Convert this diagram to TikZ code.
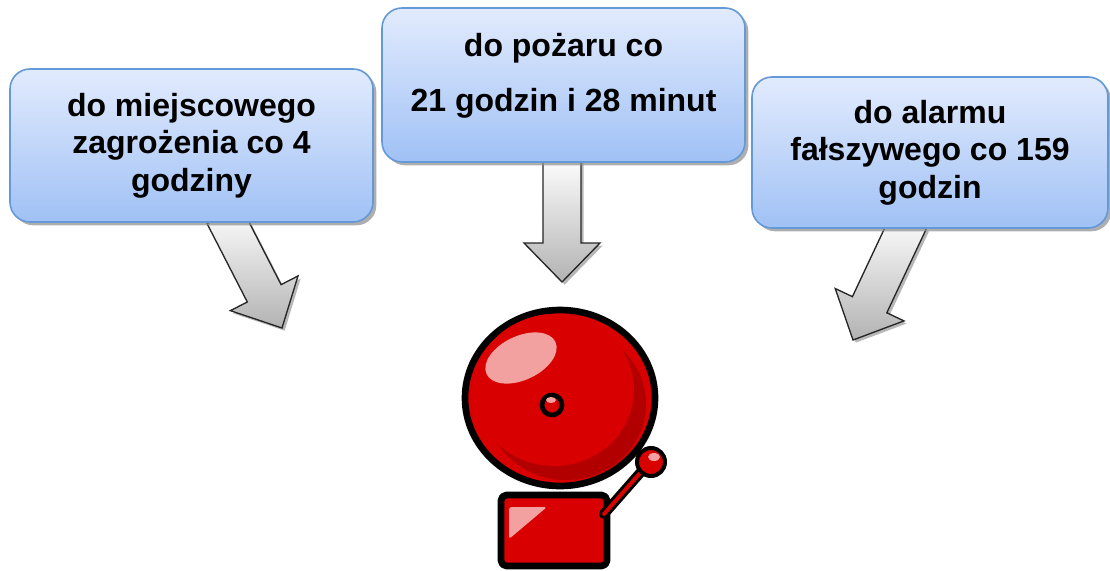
\documentclass[tikz,border=0pt]{standalone}
\usepackage{fontspec}
\setmainfont{Liberation Sans}
\usetikzlibrary{calc,shadows}
\definecolor{boxtop}{RGB}{226,235,253}
\definecolor{boxbot}{RGB}{160,193,245}
\definecolor{boxline}{RGB}{98,153,214}
\definecolor{bellred}{RGB}{216,0,0}
\definecolor{belldark}{RGB}{178,0,0}
\definecolor{bellpink}{RGB}{242,160,160}
\tikzset{
  infobox/.style={draw=boxline, line width=1.2pt, rounded corners=15pt,
    top color=boxtop, bottom color=boxbot,
    drop shadow={shadow xshift=2.5pt, shadow yshift=-2.5pt, fill=black!45, opacity=.7}},
  boxtext/.style={align=center, font=\bfseries\fontsize{24pt}{28pt}\selectfont},
  fatarrow/.style={draw=black!85, line width=1pt, line join=miter,
    top color=white, bottom color=black!30,
    drop shadow={shadow xshift=2pt, shadow yshift=-2pt, fill=black!40, opacity=.7}},
  bellline/.style={draw=black, line width=5pt, line join=round}
}
% fat arrow from #1 to the tip #2
\newcommand{\fatarrow}[2]{
  \coordinate (#1neck) at ($(#2)!29.25pt!(#1)$);
  \path[fatarrow] ($(#1)!14.25pt!90:(#2)$) -- ($(#1neck)!14.25pt!90:(#2)$)
    -- ($(#1neck)!28.5pt!90:(#2)$) -- (#2) -- ($(#1neck)!28.5pt!-90:(#2)$)
    -- ($(#1neck)!14.25pt!-90:(#2)$) -- ($(#1)!14.25pt!-90:(#2)$) -- cycle;
}
\begin{document}
\begin{tikzpicture}[x=0.75pt, y=-0.75pt]
  \useasboundingbox (0,0) rectangle (1110,571);

  % arrows, under the boxes
  \coordinate (zagrstart) at (224,215);
  \coordinate (zagrtip) at (282,328);
  \coordinate (firestart) at (562,155);
  \coordinate (firetip) at (562,282);
  \coordinate (falsestart) at (909,221);
  \coordinate (falsetip) at (853,340);
  \fatarrow{zagrstart}{zagrtip}
  \fatarrow{firestart}{firetip}
  \fatarrow{falsestart}{falsetip}

  % boxes
  \node[infobox, minimum width=272.25pt, minimum height=114.75pt] (zagr) at (191.5,145.5) {};
  \node[boxtext] (zagrtxt) at (zagr.center) {do miejscowego\\zagrożenia co 4\\godziny};
  \node[infobox, minimum width=272.25pt, minimum height=115.5pt] (fire) at (563.5,85) {};
  \node[boxtext] (firetxt) at ([yshift=7pt]fire.center) {do pożaru co\\[13pt]21 godzin i 28 minut};
  \node[infobox, minimum width=267pt, minimum height=113.25pt] (false) at (930,152.5) {};
  \node[boxtext] (falsetxt) at (false.center) {do alarmu\\fałszywego co 159\\godzin};

  % bell: base and hammer
  \draw[bellline, fill=bellred, rounded corners=4pt] (501,495) rectangle (607,566);
  \fill[bellpink, rounded corners=2pt] (509,507) -- (547,507) -- (509,539) -- cycle;
  \draw[black, line width=7.5pt, line cap=round] (604,514) -- (648,464);
  \draw[bellred, line width=3pt, line cap=round] (604,514) -- (648,464);
  \draw[black, line width=3pt, fill=bellred] (651,462) circle [radius=14];
  \fill[bellpink] (654,457) ellipse [x radius=6, y radius=4];

  % bell: dome
  \draw[bellline, fill=bellred] (560,398) ellipse [x radius=95, y radius=88];
  \begin{scope}
    \clip (560,398) ellipse [x radius=92, y radius=85];
    \fill[belldark] (566,404) ellipse [x radius=80, y radius=76];
    \fill[bellred] (554,390) ellipse [x radius=80, y radius=76];
  \end{scope}
  \fill[bellpink, rotate around={25:(521,358)}] (521,358) ellipse [x radius=38, y radius=22];
  \draw[black, line width=3.5pt, fill=bellred] (552,405) circle [radius=10];
  \fill[bellpink] (551,400) ellipse [x radius=5, y radius=3];
\end{tikzpicture}
\end{document}
